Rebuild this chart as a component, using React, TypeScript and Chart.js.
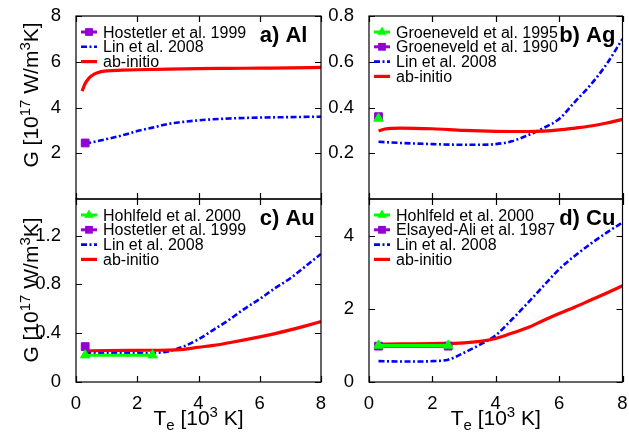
import React, { useEffect, useRef } from 'react';
import { Chart, registerables } from 'chart.js';

Chart.register(...registerables);

const W = 629;
const H = 432;
const FONT = "'Liberation Sans', Arial, Helvetica, sans-serif";
const RED = '#ff0000';
const BLUE = '#0000ff';
const GREEN = '#00ff00';
const PURPLE = '#9400d3';
const LIN_DASH = [6, 2.5, 2, 2.5];

// ---------- shared x axis ----------
const xTicks = [0, 2, 4, 6, 8];
const xMin = 0;
const xMax = 8;

// ---------- a) Al ----------
const alYTicks = [2, 4, 6, 8];
const alYMax = 8;
const alHostX = [0.3];
const alHostY = [2.45];
const alLinX = [0.3, 0.5, 1, 1.5, 2, 2.5, 3, 3.5, 4, 5, 6, 7, 8];
const alLinY = [2.42, 2.47, 2.62, 2.78, 2.97, 3.12, 3.28, 3.37, 3.44, 3.52, 3.56, 3.58, 3.6];
const alAbX = [0.2, 0.3, 0.4, 0.5, 0.7, 1, 1.5, 2, 3, 4, 5, 6, 7, 8];
const alAbY = [4.72, 5.05, 5.25, 5.38, 5.52, 5.6, 5.63, 5.65, 5.68, 5.7, 5.71, 5.72, 5.73, 5.75];

// ---------- b) Ag ----------
const agYTicks = [0.2, 0.4, 0.6, 0.8];
const agYMax = 0.8;
const agGroen95X = [0.3];
const agGroen95Y = [0.352];
const agGroen90X = [0.3];
const agGroen90Y = [0.36];
const agLinX = [0.3, 1, 2, 3, 3.5, 4, 4.5, 5, 5.5, 6, 6.5, 7, 7.5, 8];
const agLinY = [0.25, 0.245, 0.24, 0.237, 0.237, 0.24, 0.252, 0.278, 0.31, 0.35, 0.425, 0.5, 0.59, 0.7];
const agAbX = [0.3, 0.5, 1, 2, 3, 4, 5, 5.5, 6, 6.5, 7, 7.5, 8];
const agAbY = [0.298, 0.306, 0.31, 0.307, 0.3, 0.296, 0.295, 0.297, 0.302, 0.31, 0.319, 0.332, 0.348];

// ---------- c) Au ----------
const auYTicks = [0, 0.4, 0.8, 1.2];
const auYMax = 1.5;
const auHohlX = [0.3, 2.5];
const auHohlY = [0.22, 0.22];
const auHostX = [0.3];
const auHostY = [0.29];
const auLinX = [0.3, 1, 2, 2.5, 3, 3.5, 4, 4.5, 5, 5.5, 6, 6.5, 7, 7.5, 8];
const auLinY = [0.235, 0.235, 0.235, 0.237, 0.25, 0.29, 0.35, 0.43, 0.51, 0.6, 0.68, 0.77, 0.85, 0.95, 1.05];
const auAbX = [0.3, 1, 2, 3, 3.5, 4, 4.5, 5, 5.5, 6, 6.5, 7, 7.5, 8];
const auAbY = [0.255, 0.258, 0.26, 0.262, 0.268, 0.285, 0.3, 0.322, 0.345, 0.37, 0.397, 0.427, 0.46, 0.495];

// ---------- d) Cu ----------
const cuYTicks = [0, 2, 4];
const cuYMax = 5;
const cuHohlX = [0.3, 2.5];
const cuHohlY = [1.0, 1.0];
const cuElsX = [0.3, 2.5];
const cuElsY = [0.98, 0.98];
const cuLinX = [0.3, 1, 1.5, 2, 2.5, 3, 3.5, 4, 4.5, 5, 5.5, 6, 6.5, 7, 7.5, 8];
const cuLinY = [0.57, 0.56, 0.56, 0.57, 0.61, 0.8, 1.02, 1.28, 1.7, 2.15, 2.62, 3.08, 3.45, 3.78, 4.08, 4.36];
const cuAbX = [0.3, 1, 2, 3, 3.5, 4, 4.5, 5, 5.5, 6, 6.5, 7, 7.5, 8];
const cuAbY = [1.03, 1.04, 1.05, 1.07, 1.11, 1.19, 1.33, 1.48, 1.68, 1.87, 2.05, 2.24, 2.43, 2.63];

type Kind = 'abinitio' | 'lin' | 'exp';
interface Series {
  label: string;
  xs: number[];
  ys: number[];
  kind: Kind;
  color: string;
  marker?: 'rect' | 'triangle';
}
interface Panel {
  name: string;
  area: { left: number; top: number; right: number; bottom: number };
  yMax: number;
  yTicks: number[];
  showX: boolean;
  yTitleCenter: number | null;
  series: Series[];
}

const abSeries = (xs: number[], ys: number[]): Series => ({ label: 'ab-initio', xs, ys, kind: 'abinitio', color: RED });
const linSeries = (xs: number[], ys: number[]): Series => ({ label: 'Lin et al. 2008', xs, ys, kind: 'lin', color: BLUE });
const expSeries = (label: string, xs: number[], ys: number[], color: string, marker: 'rect' | 'triangle'): Series => ({ label, xs, ys, kind: 'exp', color, marker });

const panels: Panel[] = [
  {
    name: 'a) Al',
    area: { left: 76, top: 16, right: 321, bottom: 199 },
    yMax: alYMax, yTicks: alYTicks, showX: false, yTitleCenter: 95,
    series: [
      expSeries('Hostetler et al. 1999', alHostX, alHostY, PURPLE, 'rect'),
      linSeries(alLinX, alLinY),
      abSeries(alAbX, alAbY),
    ],
  },
  {
    name: 'b) Ag',
    area: { left: 369, top: 16, right: 625, bottom: 199 },
    yMax: agYMax, yTicks: agYTicks, showX: false, yTitleCenter: null,
    series: [
      expSeries('Groeneveld et al. 1995', agGroen95X, agGroen95Y, GREEN, 'triangle'),
      expSeries('Groeneveld et al. 1990', agGroen90X, agGroen90Y, PURPLE, 'rect'),
      linSeries(agLinX, agLinY),
      abSeries(agAbX, agAbY),
    ],
  },
  {
    name: 'c) Au',
    area: { left: 76, top: 199, right: 321, bottom: 382 },
    yMax: auYMax, yTicks: auYTicks, showX: true, yTitleCenter: 290,
    series: [
      expSeries('Hohlfeld et al. 2000', auHohlX, auHohlY, GREEN, 'triangle'),
      expSeries('Hostetler et al. 1999', auHostX, auHostY, PURPLE, 'rect'),
      linSeries(auLinX, auLinY),
      abSeries(auAbX, auAbY),
    ],
  },
  {
    name: 'd) Cu',
    area: { left: 369, top: 199, right: 625, bottom: 382 },
    yMax: cuYMax, yTicks: cuYTicks, showX: true, yTitleCenter: null,
    series: [
      expSeries('Hohlfeld et al. 2000', cuHohlX, cuHohlY, GREEN, 'triangle'),
      expSeries('Elsayed-Ali et al. 1987', cuElsX, cuElsY, PURPLE, 'rect'),
      linSeries(cuLinX, cuLinY),
      abSeries(cuAbX, cuAbY),
    ],
  },
];

function makeDatasets(series: Series[]) {
  return series.map((s) => {
    const data = s.xs.map((x, j) => ({ x, y: s.ys[j] }));
    if (s.kind === 'abinitio') {
      return {
        label: s.label, data, showLine: true, borderColor: s.color, backgroundColor: s.color,
        borderWidth: 3.2, pointRadius: 0, cubicInterpolationMode: 'monotone', order: 1,
      };
    }
    if (s.kind === 'lin') {
      return {
        label: s.label, data, showLine: true, borderColor: s.color, backgroundColor: s.color,
        borderWidth: 2.6, borderDash: LIN_DASH, pointRadius: 0, cubicInterpolationMode: 'monotone', order: 2,
      };
    }
    return {
      label: s.label, data, showLine: true, borderColor: s.color, backgroundColor: s.color,
      pointBackgroundColor: s.color, pointBorderColor: s.color, pointBorderWidth: 1,
      pointStyle: s.marker, pointRadius: 5.5, borderWidth: 3,
      order: s.marker === 'triangle' ? -2 : -1,
    };
  });
}

function drawMarker(ctx: CanvasRenderingContext2D, style: string, x: number, y: number, r: number, color: string) {
  ctx.save();
  ctx.fillStyle = color;
  ctx.beginPath();
  if (style === 'rect') {
    const s = Math.SQRT1_2 * r;
    ctx.rect(x - s, y - s, 2 * s, 2 * s);
  } else {
    ctx.moveTo(x, y - r);
    ctx.lineTo(x + 0.866 * r, y + 0.5 * r);
    ctx.lineTo(x - 0.866 * r, y + 0.5 * r);
    ctx.closePath();
  }
  ctx.fill();
  ctx.restore();
}

type Part = { t: string; s?: 'sup' | 'sub' };

function richWidth(ctx: CanvasRenderingContext2D, parts: Part[], size: number, small: number) {
  let w = 0;
  for (const p of parts) {
    ctx.font = `${p.s ? small : size}px ${FONT}`;
    w += ctx.measureText(p.t).width;
  }
  return w;
}

function drawRich(ctx: CanvasRenderingContext2D, parts: Part[], cx: number, baseline: number, size: number) {
  const small = Math.round(size * 0.72);
  const total = richWidth(ctx, parts, size, small);
  let x = cx - total / 2;
  ctx.fillStyle = '#000';
  ctx.textAlign = 'left';
  ctx.textBaseline = 'alphabetic';
  for (const p of parts) {
    ctx.font = `${p.s ? small : size}px ${FONT}`;
    const dy = p.s === 'sup' ? -size * 0.38 : p.s === 'sub' ? size * 0.22 : 0;
    ctx.fillText(p.t, x, baseline + dy);
    x += ctx.measureText(p.t).width;
  }
}

const yTitleParts: Part[] = [
  { t: 'G [10' }, { t: '17', s: 'sup' }, { t: ' W/m' }, { t: '3', s: 'sup' }, { t: 'K]' },
];
const xTitleParts: Part[] = [
  { t: 'T' }, { t: 'e', s: 'sub' }, { t: ' [10' }, { t: '3', s: 'sup' }, { t: ' K]' },
];

function makeDecoPlugin(p: Panel) {
  return {
    id: 'deco',
    afterDraw(chart: any) {
      const ctx: CanvasRenderingContext2D = chart.ctx;
      const { left, top, right, bottom } = chart.chartArea;
      const xs = chart.scales.x;
      const ys = chart.scales.y;
      const tl = 6;
      ctx.save();
      ctx.strokeStyle = '#000';
      ctx.lineWidth = 1.2;
      ctx.setLineDash([]);
      ctx.strokeRect(left, top, right - left, bottom - top);
      ctx.beginPath();
      for (const v of xTicks) {
        const px = Math.round(xs.getPixelForValue(v)) + 0.5;
        ctx.moveTo(px, bottom); ctx.lineTo(px, bottom - tl);
        ctx.moveTo(px, top); ctx.lineTo(px, top + tl);
      }
      for (const v of p.yTicks) {
        const py = Math.round(ys.getPixelForValue(v)) + 0.5;
        ctx.moveTo(left, py); ctx.lineTo(left + tl, py);
        ctx.moveTo(right, py); ctx.lineTo(right - tl, py);
      }
      ctx.stroke();

      // legend
      const datasets = chart.data.datasets;
      p.series.forEach((s, i) => {
        const cy = top + 16 + i * 14.8;
        const x0 = left + 5;
        const x1 = left + 21;
        const ds = datasets[i];
        ctx.save();
        ctx.strokeStyle = ds.borderColor;
        ctx.lineWidth = ds.borderWidth;
        ctx.setLineDash(ds.borderDash || []);
        ctx.beginPath();
        ctx.moveTo(x0, cy);
        ctx.lineTo(x1, cy);
        ctx.stroke();
        ctx.restore();
        if (s.marker) drawMarker(ctx, s.marker, (x0 + x1) / 2, cy, 5.5, s.color);
        ctx.fillStyle = '#000';
        ctx.font = `16px ${FONT}`;
        ctx.textAlign = 'left';
        ctx.textBaseline = 'alphabetic';
        ctx.fillText(s.label, left + 27, cy + 5.5);
      });

      // panel label
      ctx.fillStyle = '#000';
      ctx.font = `bold 22px ${FONT}`;
      ctx.textAlign = 'left';
      ctx.textBaseline = 'alphabetic';
      ctx.fillText(p.name, left + 0.75 * (right - left), top + 25.5);

      // axis titles
      if (p.yTitleCenter !== null) {
        ctx.save();
        ctx.translate(37.5, p.yTitleCenter);
        ctx.rotate(-Math.PI / 2);
        drawRich(ctx, yTitleParts, 0, 0, 21);
        ctx.restore();
      }
      if (p.showX) {
        drawRich(ctx, xTitleParts, (left + right) / 2, 425, 21);
      }
      ctx.restore();
    },
  };
}

function makeConfig(p: Panel): any {
  const a = p.area;
  return {
    type: 'scatter',
    data: { datasets: makeDatasets(p.series) },
    options: {
      animation: false,
      responsive: false,
      devicePixelRatio: 1,
      events: [],
      layout: { padding: { left: 0, top: a.top, right: W - a.right, bottom: 0 } },
      plugins: { legend: { display: false }, tooltip: { enabled: false } },
      scales: {
        x: {
          type: 'linear',
          min: xMin,
          max: xMax,
          grid: { display: false },
          border: { display: false },
          afterBuildTicks: (s: any) => { s.ticks = xTicks.map((v) => ({ value: v })); },
          afterFit: (s: any) => { s.height = H - a.bottom; s.paddingLeft = 0; s.paddingRight = 0; },
          ticks: {
            display: p.showX,
            autoSkip: false,
            maxRotation: 0,
            padding: 3,
            color: '#000',
            font: { family: FONT, size: 18.5 },
            callback: (v: number) => `${v}`,
          },
        },
        y: {
          type: 'linear',
          min: 0,
          max: p.yMax,
          grid: { display: false },
          border: { display: false },
          afterBuildTicks: (s: any) => { s.ticks = p.yTicks.map((v) => ({ value: v })); },
          afterFit: (s: any) => { s.width = a.left; s.paddingTop = 0; s.paddingBottom = 0; },
          ticks: {
            autoSkip: false,
            padding: 7,
            color: '#000',
            font: { family: FONT, size: 18.5 },
            callback: (v: number) => `${v}`,
          },
        },
      },
    },
    plugins: [makeDecoPlugin(p)],
  };
}

export default function App() {
  const refs = [useRef<HTMLCanvasElement>(null), useRef<HTMLCanvasElement>(null), useRef<HTMLCanvasElement>(null), useRef<HTMLCanvasElement>(null)];
  useEffect(() => {
    const charts = panels.map((p, i) => new Chart(refs[i].current as HTMLCanvasElement, makeConfig(p)));
    return () => charts.forEach((c) => c.destroy());
  }, []);
  return (
    <div style={{ position: 'fixed', left: 0, top: 0, width: W, height: H, background: '#fff' }}>
      {panels.map((p, i) => (
        <canvas
          key={p.name}
          ref={refs[i]}
          width={W}
          height={H}
          style={{ position: 'absolute', left: 0, top: 0, width: W, height: H }}
        />
      ))}
    </div>
  );
}
